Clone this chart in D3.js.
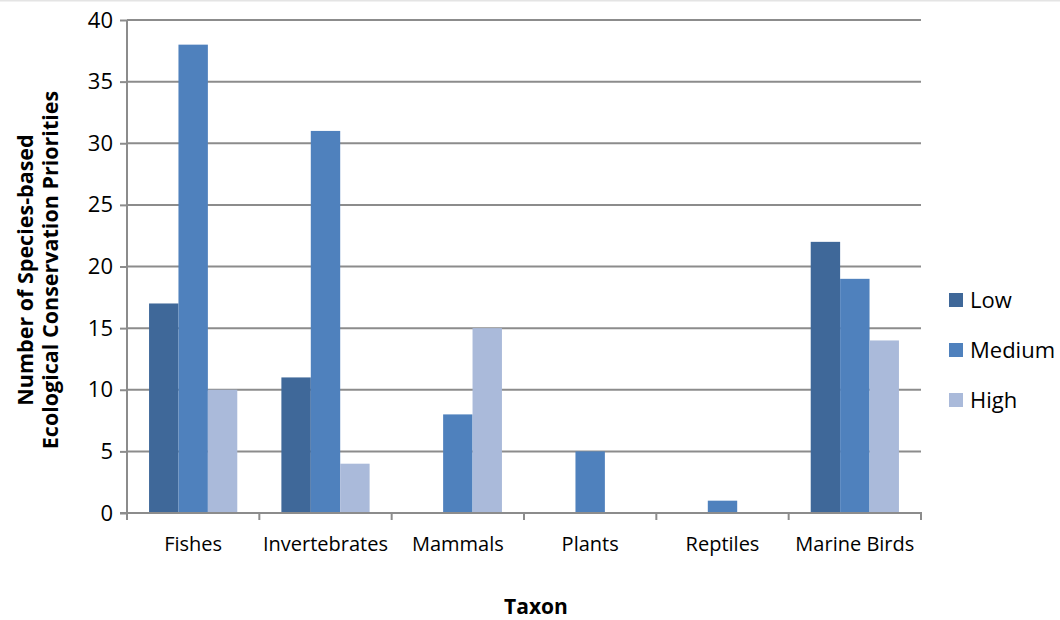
<!DOCTYPE html>
<html>
<head>
<meta charset="utf-8">
<script src="https://cdn.jsdelivr.net/npm/d3@7"></script>
<style>
  html, body { margin: 0; padding: 0; background: #fff; }
  svg { display: block; }
  svg text { font-family: "Open Sans", "Noto Sans", sans-serif; }
</style>
</head>
<body>
<svg id="chart" width="1060" height="620"></svg>
<script>
// Species-based ecological conservation priorities by taxon
const taxa = ["Fishes", "Invertebrates", "Mammals", "Plants", "Reptiles", "Marine Birds"];
const levels = ["Low", "Medium", "High"];
const lowValues = [17, 11, 0, 0, 0, 22];
const mediumValues = [38, 31, 8, 5, 1, 19];
const highValues = [10, 4, 15, 0, 0, 14];
const yTicks = [0, 5, 10, 15, 20, 25, 30, 35, 40];
const colors = ["#3F6899", "#4F81BD", "#AABADA"];

const series = [lowValues, mediumValues, highValues];
const rows = taxa.map((t, i) => ({ taxon: t, values: levels.map((l, j) => ({ level: l, value: series[j][i] })) }));

const svg = d3.select("#chart");
const margin = { left: 127, right: 139, top: 20, bottom: 107 };
const W = 1060, H = 620;
const innerW = W - margin.left - margin.right;
const innerH = H - margin.top - margin.bottom;

// faint frame line across the top
svg.append("line").attr("x1", 0).attr("x2", W).attr("y1", 0.5).attr("y2", 0.5)
  .attr("stroke", "#e4e4e4").attr("stroke-width", 2);

const g = svg.append("g").attr("transform", `translate(${margin.left},${margin.top})`);

const x0 = d3.scaleBand().domain(taxa).range([0, innerW]).paddingInner(0).paddingOuter(0);
const groupW = x0.bandwidth() * 2 / 3;
const x1 = d3.scaleBand().domain(levels).range([0, groupW]).padding(0);
const y = d3.scaleLinear().domain([0, 40]).range([innerH, 0]);
const color = d3.scaleOrdinal().domain(levels).range(colors);

// horizontal gridlines
g.append("g").selectAll("line").data(yTicks.filter(d => d > 0)).join("line")
  .attr("x1", 0).attr("x2", innerW)
  .attr("y1", d => y(d)).attr("y2", d => y(d))
  .attr("stroke", "#8c8c8c").attr("stroke-width", 2);

// bars
const groups = g.append("g").selectAll("g").data(rows).join("g")
  .attr("transform", d => `translate(${x0(d.taxon) + (x0.bandwidth() - groupW) / 2},0)`);
groups.selectAll("rect").data(d => d.values.filter(v => v.value > 0)).join("rect")
  .attr("x", d => x1(d.level))
  .attr("width", x1.bandwidth())
  .attr("y", d => y(d.value))
  .attr("height", d => innerH - y(d.value))
  .attr("fill", d => color(d.level));

// y axis
const yAxis = g.append("g").call(d3.axisLeft(y).tickValues(yTicks).tickSize(7).tickPadding(7).tickFormat(d3.format("d")));
yAxis.attr("font-family", null).attr("font-size", null);
yAxis.select(".domain").attr("stroke", "#8c8c8c").attr("stroke-width", 2).attr("d", `M0,${innerH + 7}V0`);
yAxis.selectAll(".tick line").attr("stroke", "#8c8c8c").attr("stroke-width", 2);
yAxis.selectAll(".tick text").attr("font-size", 22).attr("fill", "#000");

// x axis with boundary ticks between categories
const xg = g.append("g").attr("transform", `translate(0,${innerH})`);
xg.append("line").attr("x1", -7).attr("x2", innerW + 1).attr("y1", 0).attr("y2", 0)
  .attr("stroke", "#8c8c8c").attr("stroke-width", 2);
const bounds = taxa.map(t => x0(t)).concat([innerW]);
xg.selectAll("line.tk").data(bounds).join("line").attr("class", "tk")
  .attr("x1", d => d).attr("x2", d => d).attr("y1", 0).attr("y2", 7)
  .attr("stroke", "#8c8c8c").attr("stroke-width", 2);
xg.selectAll("text").data(taxa).join("text")
  .attr("x", d => x0(d) + x0.bandwidth() / 2)
  .attr("y", 38)
  .attr("text-anchor", "middle")
  .attr("font-size", 20)
  .attr("fill", "#000")
  .text(d => d);

// axis titles
svg.append("text").attr("x", 536).attr("y", 614)
  .attr("text-anchor", "middle").attr("font-size", 21).attr("font-weight", "bold").text("Taxon");
const yt = svg.append("text").attr("transform", `translate(33,270) rotate(-90)`)
  .attr("text-anchor", "middle").attr("font-size", 21.5).attr("font-weight", "bold");
yt.append("tspan").attr("x", 0).attr("dy", 0).text("Number of Species-based");
yt.append("tspan").attr("x", 0).attr("dy", 25).text("Ecological Conservation Priorities");

// legend
const legend = svg.append("g").attr("transform", "translate(949,300)");
const li = legend.selectAll("g").data(levels).join("g").attr("transform", (d, i) => `translate(0,${i * 50})`);
li.append("rect").attr("x", 0).attr("y", -7).attr("width", 14).attr("height", 14).attr("fill", d => color(d));
li.append("text").attr("x", 21).attr("y", 0).attr("dy", "0.35em").attr("font-size", 22).attr("fill", "#000").text(d => d);
</script>
</body>
</html>
